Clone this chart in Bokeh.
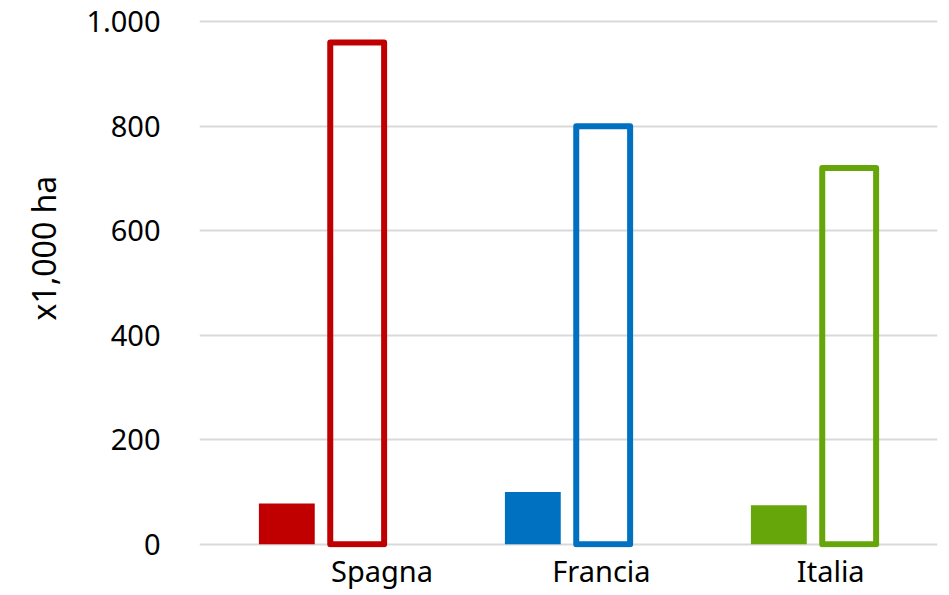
from bokeh.plotting import figure
from bokeh.models import Range1d, FixedTicker, Title
from bokeh.embed import file_html
from bokeh.resources import INLINE

# data
countries = ["Spagna", "Francia", "Italia"]
small_vals = [78, 100, 75]
large_vals = [960, 800, 720]
colors = ["#C00000", "#0070C0", "#66A60B"]
y_ticks = [0, 200, 400, 600, 800, 1000]
y_tick_labels = ["0", "200", "400", "600", "800", "1.000"]
y_title = "x1,000 ha"

# layout helpers (category i spans [i, i+1])
centers = [i + 0.5 for i in range(len(countries))]
small_x = [c - 0.145 for c in centers]
large_x = [c + 0.141 for c in centers]
label_x = [0.742, 1.634, 2.566]

FONT = "Noto Sans"

p = figure(width=949, height=595, output_backend="svg", toolbar_location=None,
           x_range=Range1d(0, 3), y_range=Range1d(-6, 1004),
           min_border_left=197, min_border_right=12, min_border_top=19,
           min_border_bottom=48)
p.outline_line_color = None
p.background_fill_color = "white"

p.vbar(x=small_x, top=small_vals, bottom=0, width=0.227, fill_color=colors,
       line_color=None)
p.vbar(x=large_x, top=large_vals, bottom=0, width=0.219, fill_color=None,
       line_color=colors, line_width=6, line_join="round")

# y axis
p.yaxis.ticker = FixedTicker(ticks=y_ticks)
p.yaxis.major_label_overrides = {t: l for t, l in zip(y_ticks, y_tick_labels)}
p.yaxis.axis_line_color = None
p.yaxis.major_tick_line_color = None
p.yaxis.minor_tick_line_color = None
p.yaxis.major_label_standoff = 33
p.yaxis.major_label_text_font = FONT
p.yaxis.major_label_text_font_size = "29px"
p.yaxis.major_label_text_color = "black"

# y title
p.add_layout(Title(text=y_title, align="left", offset=227, standoff=38,
                   text_font=FONT, text_font_size="32px",
                   text_font_style="normal", text_color="black"), "left")

# x axis
p.xaxis.ticker = FixedTicker(ticks=label_x)
p.xaxis.major_label_overrides = {x: c for x, c in zip(label_x, countries)}
p.xaxis.axis_line_color = None
p.xaxis.major_tick_line_color = None
p.xaxis.minor_tick_line_color = None
p.xaxis.major_label_standoff = -3
p.xaxis.major_label_text_font = FONT
p.xaxis.major_label_text_font_size = "29px"
p.xaxis.major_label_text_color = "black"

p.xgrid.grid_line_color = None
p.ygrid.ticker = FixedTicker(ticks=y_ticks)
p.ygrid.grid_line_color = "#D9D9D9"
p.ygrid.grid_line_width = 2

open("out.html", "w").write(file_html(p, INLINE))
